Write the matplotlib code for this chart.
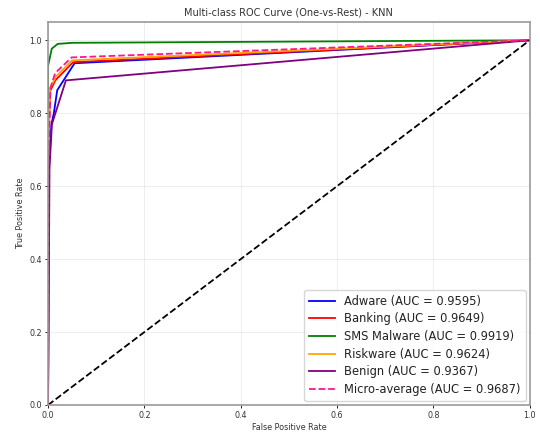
import matplotlib
matplotlib.use("Agg")
import matplotlib.pyplot as plt

# ROC points (KNN gives few thresholds)
classes = ["Adware", "Banking", "SMS Malware", "Riskware", "Benign"]
aucs = [0.9595, 0.9649, 0.9919, 0.9624, 0.9367]
colors = ["blue", "red", "green", "orange", "purple"]

fpr_adware = [0.0, 0.002, 0.007, 0.012, 0.019, 0.055, 1.0]
tpr_adware = [0.0, 0.65, 0.77, 0.80, 0.863, 0.937, 1.0]

fpr_banking = [0.0, 0.001, 0.004, 0.015, 0.052, 1.0]
tpr_banking = [0.0, 0.72, 0.86, 0.89, 0.940, 1.0]

fpr_sms = [0.0, 0.0, 0.0077, 0.02, 0.05, 1.0]
tpr_sms = [0.0, 0.93, 0.977, 0.990, 0.993, 1.0]

fpr_risk = [0.0, 0.001, 0.004, 0.016, 0.050, 1.0]
tpr_risk = [0.0, 0.74, 0.868, 0.90, 0.945, 1.0]

fpr_benign = [0.0, 0.003, 0.008, 0.037, 1.0]
tpr_benign = [0.0, 0.65, 0.77, 0.89, 1.0]

fpr_micro = [0.0, 0.001, 0.005, 0.0145, 0.021, 0.049, 1.0]
tpr_micro = [0.0, 0.66, 0.87, 0.909, 0.918, 0.953, 1.0]

fprs = [fpr_adware, fpr_banking, fpr_sms, fpr_risk, fpr_benign]
tprs = [tpr_adware, tpr_banking, tpr_sms, tpr_risk, tpr_benign]

fig = plt.figure(figsize=(5.4, 4.32), dpi=100)
ax = fig.add_axes([0.089, 0.0625, 0.892, 0.8865])

for name, auc, c, f, t in zip(classes, aucs, colors, fprs, tprs):
    ax.plot(f, t, color=c, lw=1.3, label=f"{name} (AUC = {auc:.4f})")

ax.plot(fpr_micro, tpr_micro, color="deeppink", lw=1.3, linestyle="--",
        label="Micro-average (AUC = 0.9687)")
ax.plot([0, 1], [0, 1], "k--", lw=1.3)

ax.set_xlim(0.0, 1.0)
ax.set_ylim(0.0, 1.05)
ax.set_xlabel("False Positive Rate", fontsize=5.8, labelpad=2, color="#333333")
ax.set_ylabel("True Positive Rate", fontsize=5.8, labelpad=3, color="#333333")
ax.set_title("Multi-class ROC Curve (One-vs-Rest) - KNN", fontsize=7,
             pad=5, color="#333333")
ax.tick_params(labelsize=5.8, length=2.5, width=0.6, pad=2,
               labelcolor="#333333")
ax.grid(True, alpha=0.3, lw=0.5)
for s in ax.spines.values():
    s.set_color("#999999")
    s.set_linewidth(1.2)

leg = ax.legend(loc="lower right", fontsize=8.3, handlelength=2.2,
                labelspacing=0.4, borderpad=0.45, handletextpad=0.8,
                borderaxespad=0.35)
for txt in leg.get_texts():
    txt.set_color("#222222")

fig.savefig("out.png", dpi=100)
